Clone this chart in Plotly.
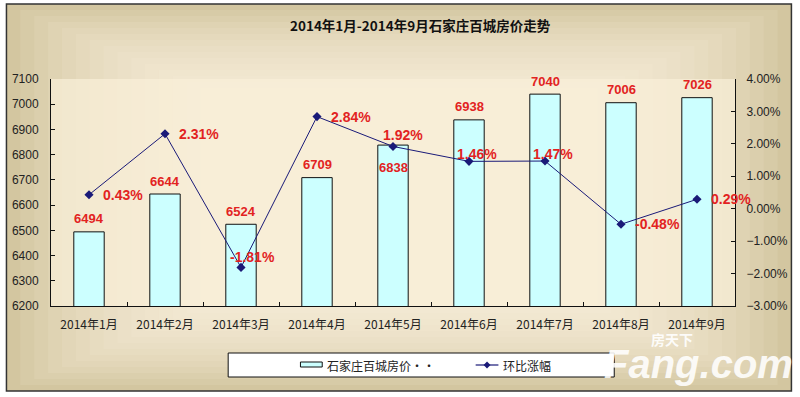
import plotly.graph_objects as go

# ---- data ----
months = ["2014年1月", "2014年2月", "2014年3月", "2014年4月", "2014年5月",
          "2014年6月", "2014年7月", "2014年8月", "2014年9月"]
prices = [6494, 6644, 6524, 6709, 6838, 6938, 7040, 7006, 7026]
mom_pct = [0.43, 2.31, -1.81, 2.84, 1.92, 1.46, 1.47, -0.48, 0.29]
title_text = "2014年1月-2014年9月石家庄百城房价走势"
bar_name = "石家庄百城房价··"
line_name = "环比涨幅"

# label placement (style): pixel shifts for labels
pct_dx = [10, 10, -15, 10, -14, -16, -16, 10, 10]
pct_dy = [0, 0, 10, 0, 11, 7, 7, 0, 0]
bar_dy = [13, 13, 13, 13, -22, 13, 13, 13, 13]

W, H = 800, 397
ML, MR, MT, MB = 48, 61, 79, 91
PW, PH = W - ML - MR, H - MT - MB


def fx(px):
    return (px - ML) / PW


def fy(py):
    return (H - MB - py) / PH


RED = "#E2231F"
NAVY = "#1A1A78"
CJK = "Noto Sans CJK SC"
ARIAL = "Liberation Sans, Arial"

fig = go.Figure()

fig.add_trace(go.Bar(
    x=months, y=prices, name=bar_name,
    marker=dict(color="#CCFFFF", line=dict(color="#111111", width=1)),
    yaxis="y", showlegend=False, hoverinfo="x+y",
))
fig.add_trace(go.Scatter(
    x=months, y=[v / 100 for v in mom_pct], name=line_name, yaxis="y2",
    mode="lines+markers",
    line=dict(color=NAVY, width=1),
    marker=dict(symbol="diamond", size=7, color=NAVY),
    showlegend=False,
))

shapes = []
# outer background with pseudo gradient
x0, y0, x1, y1 = 3, 4, 796, 391
shapes.append(dict(type="rect", xref="paper", yref="paper", layer="below",
                   x0=fx(x0), x1=fx(x1), y0=fy(y1), y1=fy(y0),
                   fillcolor="#D3C6A0", line=dict(width=0)))
steps = 14
for i in range(1, steps + 1):
    ix = i * 14
    iy = i * 6
    shapes.append(dict(type="rect", xref="paper", yref="paper", layer="below",
                       x0=fx(x0 + ix), x1=fx(x1 - ix), y0=fy(y1 - iy), y1=fy(y0 + iy),
                       fillcolor="#FBF6E8", opacity=0.11, line=dict(width=0)))
# plot area fill
shapes.append(dict(type="rect", xref="paper", yref="paper", layer="below",
                   x0=0, x1=1, y0=0, y1=1,
                   fillcolor="#FAEFD8", opacity=0.7, line=dict(width=0)))
# outer border
shapes.append(dict(type="rect", xref="paper", yref="paper", layer="above",
                   x0=fx(x0), x1=fx(x1), y0=fy(y1), y1=fy(y0),
                   fillcolor="rgba(0,0,0,0)", line=dict(color="#333333", width=1.5)))

# legend box
lx0, lx1, ly0, ly1 = 227, 617, 353, 377
shapes.append(dict(type="rect", xref="paper", yref="paper", layer="above",
                   x0=fx(lx0), x1=fx(lx1), y0=fy(ly1), y1=fy(ly0),
                   fillcolor="white", line=dict(color="#111111", width=1)))
shapes.append(dict(type="rect", xref="paper", yref="paper", layer="above",
                   x0=fx(300), x1=fx(322), y0=fy(367), y1=fy(362),
                   fillcolor="#CCFFFF", line=dict(color="#111111", width=1)))
shapes.append(dict(type="line", xref="paper", yref="paper", layer="above",
                   x0=fx(477), x1=fx(500), y0=fy(365), y1=fy(365),
                   line=dict(color=NAVY, width=1.2)))
shapes.append(dict(type="path", xref="paper", yref="paper", layer="above",
                   path=f"M {fx(488.5)} {fy(361.5)} L {fx(492)} {fy(365)} L {fx(488.5)} {fy(368.5)} L {fx(485)} {fy(365)} Z",
                   fillcolor=NAVY, line=dict(color=NAVY, width=0)))

annotations = []
annotations.append(dict(text=f"<b>{title_text}</b>", xref="paper", yref="paper",
                        x=fx(421), y=fy(25), xanchor="center", yanchor="middle", showarrow=False,
                        font=dict(family=CJK, size=13.5, color="#111111")))
annotations.append(dict(text=bar_name, xref="paper", yref="paper", x=fx(325), y=fy(365),
                        xanchor="left", yanchor="middle", showarrow=False,
                        font=dict(family=CJK, size=12, color="#222222")))
annotations.append(dict(text=line_name, xref="paper", yref="paper", x=fx(503), y=fy(365),
                        xanchor="left", yanchor="middle", showarrow=False,
                        font=dict(family=CJK, size=12, color="#222222")))

# value labels on bars
for m, p, dy in zip(months, prices, bar_dy):
    annotations.append(dict(text=f"<b>{p}</b>", x=m, y=p, xref="x", yref="y",
                            xanchor="center", yanchor="middle",
                            yshift=dy, showarrow=False,
                            font=dict(family=ARIAL, size=13, color=RED)))
# percentage labels on line
for m, v, dx, dy in zip(months, mom_pct, pct_dx, pct_dy):
    annotations.append(dict(text=f"<b>{v:.2f}%</b>", x=m, y=v / 100, xref="x", yref="y2",
                            xanchor="left", yanchor="middle", xshift=dx + 2, yshift=dy, showarrow=False,
                            font=dict(family=ARIAL, size=14, color=RED)))

# watermark
annotations.append(dict(text="<b><i>Fang.com</i></b>", xref="paper", yref="paper",
                        x=fx(702), y=fy(364), xanchor="center", yanchor="middle", showarrow=False,
                        font=dict(family=ARIAL, size=40, color="rgba(255,255,255,0.88)")))
annotations.append(dict(text="<b>房天下</b>", xref="paper", yref="paper",
                        x=fx(675), y=fy(339), xanchor="center", yanchor="middle", showarrow=False,
                        font=dict(family=CJK, size=14, color="rgba(255,255,255,0.92)")))

fig.update_layout(
    width=W, height=H,
    margin=dict(l=ML, r=MR, t=MT, b=MB),
    paper_bgcolor="white",
    plot_bgcolor="rgba(0,0,0,0)",
    bargap=0.6,
    shapes=shapes,
    annotations=annotations,
    showlegend=False,
    xaxis=dict(
        type="category", range=[-0.5, len(months) - 0.5],
        showline=True, linecolor="#111111", linewidth=1,
        ticks="inside", ticklen=4, tickcolor="#111111", tickson="boundaries",
        showgrid=False, ticklabelstandoff=8,
        tickfont=dict(family=CJK, size=12, color="#222222"),
    ),
    yaxis=dict(
        range=[6200, 7100], dtick=100, showline=True, linecolor="#111111", linewidth=1,
        ticks="inside", ticklen=4, tickcolor="#111111", showgrid=False, zeroline=False,
        ticklabelstandoff=9,
        tickfont=dict(family=ARIAL, size=12, color="#222222"),
    ),
    yaxis2=dict(
        range=[-0.03, 0.04], dtick=0.01, tickformat=".2%", overlaying="y", side="right",
        showline=True, linecolor="#111111", linewidth=1,
        ticks="inside", ticklen=4, tickcolor="#111111", showgrid=False, zeroline=False,
        ticklabelstandoff=8,
        tickfont=dict(family=ARIAL, size=12, color="#222222"),
    ),
)

fig.write_html(
    "out.html",
    config={"displayModeBar": False},
    post_script="document.body.style.margin='0';document.body.style.overflow='hidden';",
)
